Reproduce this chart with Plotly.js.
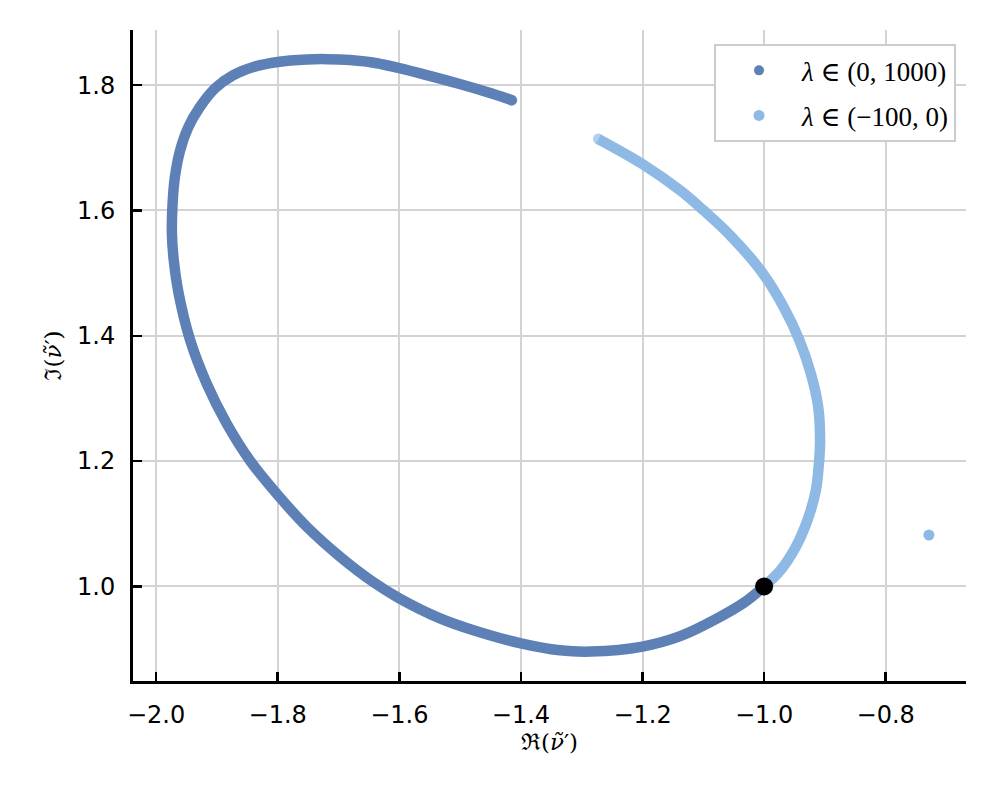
<!DOCTYPE html>
<html>
<head>
<meta charset="utf-8">
<script src="https://cdn.plot.ly/plotly-3.0.1.min.js"></script>
<style>
  html, body { margin: 0; padding: 0; background: #fff; }
  #chart { width: 996px; height: 797px; }
</style>
</head>
<body>
<div id="chart"></div>
<script>
// lambda in (0, 1000): starts at the black point and winds round to the top
const darkX = [-1.0, -1.033, -1.077, -1.137, -1.2, -1.285, -1.336, -1.4, -1.478, -1.533,
  -1.6, -1.643, -1.697, -1.752, -1.8, -1.845, -1.884, -1.917, -1.944, -1.963,
  -1.971, -1.974, -1.9726, -1.969, -1.9605, -1.947, -1.928, -1.903, -1.873, -1.840,
  -1.800, -1.752, -1.719, -1.681, -1.637, -1.600, -1.555, -1.505, -1.456, -1.415];
const darkY = [1.0, 0.974, 0.949, 0.921, 0.904, 0.896, 0.898, 0.909, 0.930, 0.949,
  0.981, 1.007, 1.047, 1.095, 1.146, 1.200, 1.260, 1.324, 1.393, 1.468,
  1.521, 1.563, 1.616, 1.654, 1.696, 1.733, 1.765, 1.795, 1.816, 1.829,
  1.837, 1.841, 1.8415, 1.840, 1.835, 1.827, 1.816, 1.803, 1.789, 1.776];

// lambda in (-100, 0)
const lightX = [-1.0, -0.973, -0.948, -0.929, -0.915, -0.9096, -0.908, -0.911, -0.923, -0.942,
  -0.968, -1.004, -1.0555, -1.0995, -1.138, -1.2, -1.2725];
const lightY = [1.0, 1.026, 1.063, 1.105, 1.153, 1.2, 1.233, 1.286, 1.339, 1.393,
  1.446, 1.502, 1.560, 1.6, 1.632, 1.674, 1.714];

// lone point of the second series
const outlierX = [-0.729];
const outlierY = [1.082];

// the point nu' = -1 + i
const startX = [-1.0];
const startY = [1.0];

const darkName = '<i>λ</i> ∈ (0, 1000)';
const lightName = '<i>λ</i> ∈ (−100, 0)';

const darkColor = '#5d80b6';
const lightColor = '#8fb9e5';
const serif = '"Liberation Serif", "DejaVu Serif", serif';
const sans = '"DejaVu Sans", sans-serif';
const lw = 10.5;

// round caps only at the two ends of a curve
function endSizes(n) {
  return Array.from({ length: n }, (_, i) => (i === 0 || i === n - 1) ? lw + 0.5 : 0);
}

const traces = [
  {
    x: darkX, y: darkY, type: 'scatter', mode: 'lines+markers',
    line: { color: darkColor, width: lw, shape: 'spline', smoothing: 1 },
    marker: { color: darkColor, size: endSizes(darkX.length), line: { width: 0 } },
    showlegend: false, hoverinfo: 'skip'
  },
  {
    x: lightX, y: lightY, type: 'scatter', mode: 'lines+markers',
    line: { color: lightColor, width: lw, shape: 'spline', smoothing: 1 },
    marker: { color: lightColor, size: endSizes(lightX.length), line: { width: 0 } },
    showlegend: false, hoverinfo: 'skip'
  },
  {
    x: darkX.slice(-1), y: darkY.slice(-1), type: 'scatter', mode: 'markers',
    marker: { color: darkColor, size: 10 },
    name: darkName, legendgroup: 'a'
  },
  {
    x: outlierX, y: outlierY, type: 'scatter', mode: 'markers',
    marker: { color: lightColor, size: 11 },
    name: lightName, legendgroup: 'b'
  },
  {
    x: startX, y: startY, type: 'scatter', mode: 'markers',
    marker: { color: '#000000', size: 18 },
    showlegend: false
  }
];

const layout = {
  width: 996,
  height: 797,
  margin: { l: 133, r: 30, t: 30, b: 116 },
  paper_bgcolor: '#ffffff',
  plot_bgcolor: '#ffffff',
  font: { family: sans, size: 24, color: '#000000' },
  xaxis: {
    range: [-2.038, -0.668],
    tickvals: [-2.0, -1.8, -1.6, -1.4, -1.2, -1.0, -0.8],
    ticktext: ['−2.0', '−1.8', '−1.6', '−1.4', '−1.2', '−1.0', '−0.8'],
    ticks: 'inside', ticklen: 9, tickwidth: 2.5, tickcolor: '#000',
    showline: true, linecolor: '#000', linewidth: 3,
    showgrid: true, gridcolor: '#d3d3d3', gridwidth: 2,
    zeroline: false,
    ticklabelstandoff: 10,
    tickfont: { family: sans, size: 24 },
    title: { text: 'ℜ(<i>ν̃</i>′)', font: { family: '"DejaVu Serif", serif', size: 23 }, standoff: 6 }
  },
  yaxis: {
    range: [0.849, 1.888],
    tickvals: [1.0, 1.2, 1.4, 1.6, 1.8],
    ticktext: ['1.0', '1.2', '1.4', '1.6', '1.8'],
    ticks: 'inside', ticklen: 9, tickwidth: 2.5, tickcolor: '#000',
    showline: true, linecolor: '#000', linewidth: 3,
    showgrid: true, gridcolor: '#d3d3d3', gridwidth: 2,
    zeroline: false,
    ticklabelstandoff: 10,
    tickfont: { family: sans, size: 24 },
    title: { text: 'ℑ(<i>ν̃</i>′)', font: { family: '"DejaVu Serif", serif', size: 23 }, standoff: 9 }
  },
  legend: {
    x: 0.988, y: 0.978, xanchor: 'right', yanchor: 'top',
    bgcolor: '#ffffff', bordercolor: '#cccccc', borderwidth: 2,
    font: { family: serif, size: 27 },
    tracegroupgap: 7,
    itemwidth: 76
  }
};

Plotly.newPlot('chart', traces, layout, { displayModeBar: false, staticPlot: true });
</script>
</body>
</html>
